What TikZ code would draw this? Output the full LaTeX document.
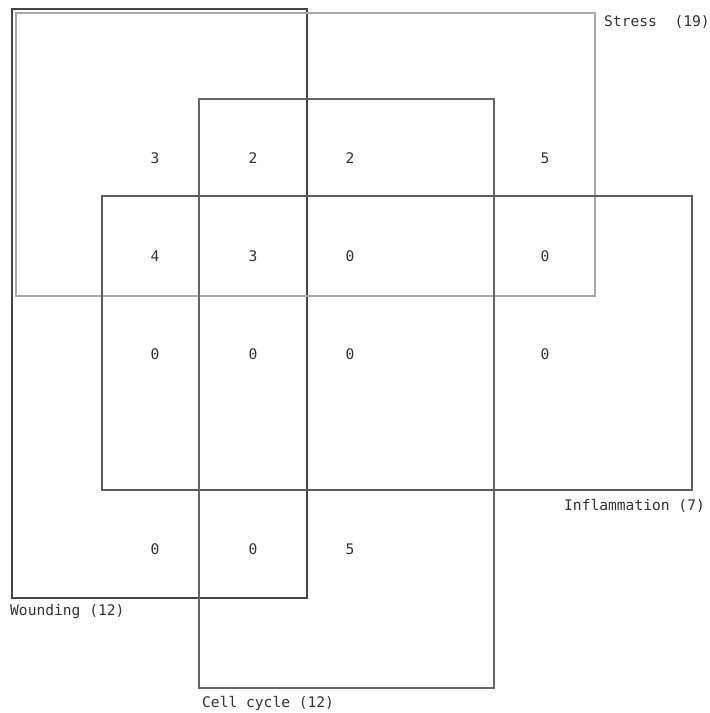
\documentclass[tikz,border=0pt]{standalone}
\usepackage{fontspec}
\setmonofont{DejaVu Sans Mono}
\definecolor{woundc}{HTML}{444444}
\definecolor{stressc}{HTML}{A8A8A8}
\definecolor{cellc}{HTML}{666666}
\definecolor{inflc}{HTML}{5C5C5C}
\definecolor{txtc}{HTML}{333333}
\tikzset{
  setbox/.style={line width=1.1pt},
  cnt/.style={font=\ttfamily\fontsize{14.6}{14.6}\selectfont, text=txtc, inner sep=0pt, anchor=center},
  lab/.style={font=\ttfamily\fontsize{14.6}{14.6}\selectfont, text=txtc, inner sep=0pt, anchor=west}
}
\begin{document}
\begin{tikzpicture}[x=1pt,y=-1pt]
\useasboundingbox (0,0) rectangle (710,713);
\fill[white] (0,0) rectangle (710,713);
% sets
\draw[setbox, woundc] (12,9) rectangle (307,598);
\draw[setbox, stressc] (16,13) rectangle (595,296);
\draw[setbox, cellc] (199,99) rectangle (494,688);
\draw[setbox, inflc] (102,196) rectangle (692,490);
% labels
\node[lab] (lstress) at (604,22) {Stress\ \ (19)};
\node[lab] (linfl) at (564,506) {Inflammation (7)};
\node[lab] (lwound) at (10,612) {Wounding (12)};
\node[lab] (lcell) at (202,703) {Cell cycle (12)};
% counts
\node[cnt] (c11) at (155,158) {3};
\node[cnt] (c12) at (253,158) {2};
\node[cnt] (c13) at (350,158) {2};
\node[cnt] (c14) at (545,158) {5};
\node[cnt] (c21) at (155,256) {4};
\node[cnt] (c22) at (253,256) {3};
\node[cnt] (c23) at (350,256) {0};
\node[cnt] (c24) at (545,256) {0};
\node[cnt] (c31) at (155,354) {0};
\node[cnt] (c32) at (253,354) {0};
\node[cnt] (c33) at (350,354) {0};
\node[cnt] (c34) at (545,354) {0};
\node[cnt] (c41) at (155,549) {0};
\node[cnt] (c42) at (253,549) {0};
\node[cnt] (c43) at (350,549) {5};
\end{tikzpicture}
\end{document}
